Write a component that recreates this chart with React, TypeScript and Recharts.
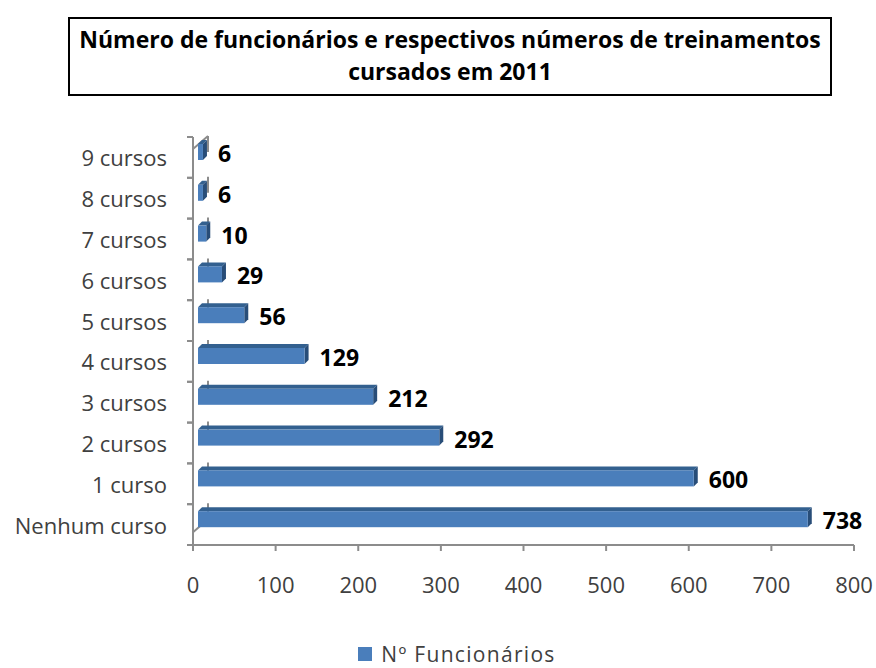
import React from "react";
import { BarChart, Bar, XAxis, YAxis, Legend, LabelList } from "recharts";

const categories = ["Nenhum curso", "1 curso", "2 cursos", "3 cursos", "4 cursos", "5 cursos", "6 cursos", "7 cursos", "8 cursos", "9 cursos"];
const funcionarios = [738, 600, 292, 212, 129, 56, 29, 10, 6, 6];
const xTicks = [0, 100, 200, 300, 400, 500, 600, 700, 800];
const seriesName = "Nº Funcionários";
const titleLines = ["Número de funcionários e respectivos números de treinamentos", "cursados em 2011"];

const data = categories.map((c, i) => ({ cat: c, value: funcionarios[i] }));

const FONT = "'Open Sans', 'DejaVu Sans', sans-serif";
const FACE = "#4A7EBB";
const TOP = "#33608F";
const SIDE = "#284D78";
const AXIS = "#8C8C8C";
const DX = 5;
const DY = -5;
const D = 4;
const WALL_X = 15;
const WALL_Y = -13;

const Bar3D = (props: any) => {
  const { x, y, width, height, background, index } = props;
  const fx = x + DX;
  const fy = y + DY;
  const w = Math.max(width, 0);
  const h = height;
  const bg = background || { x: x, y: y, width: 0, height: h };
  const wallX = bg.x + WALL_X;
  const els: any[] = [];
  els.push(<line key="w" x1={wallX} x2={wallX} y1={bg.y + WALL_Y} y2={bg.y + bg.height + WALL_Y} stroke={AXIS} strokeWidth={2} />);
  if (index === 0) {
    els.push(<line key="wb" x1={bg.x} y1={bg.y + bg.height} x2={wallX} y2={bg.y + bg.height + WALL_Y} stroke={AXIS} strokeWidth={2} />);
  }
  if (index === categories.length - 1) {
    els.push(<line key="wt" x1={bg.x} y1={bg.y} x2={wallX} y2={bg.y + WALL_Y} stroke={AXIS} strokeWidth={2} />);
  }
  els.push(<polygon key="t" points={`${fx},${fy} ${fx + D},${fy - D} ${fx + w + D},${fy - D} ${fx + w},${fy}`} fill={TOP} />);
  els.push(<polygon key="s" points={`${fx + w},${fy} ${fx + w + D},${fy - D} ${fx + w + D},${fy + h - D} ${fx + w},${fy + h}`} fill={SIDE} />);
  els.push(<rect key="f" x={fx} y={fy} width={w} height={h} fill={FACE} />);
  return <g>{els}</g>;
};

const YTick = (props: any) => {
  const { x, y, payload } = props;
  const off = payload && payload.offset != null ? payload.offset : 20.4;
  const axisX = x + 26;
  return (
    <g>
      <line x1={axisX - 6} x2={axisX} y1={y - off} y2={y - off} stroke={AXIS} strokeWidth={2} />
      <line x1={axisX - 6} x2={axisX} y1={y + off} y2={y + off} stroke={AXIS} strokeWidth={2} />
      <text x={x} y={y} textAnchor="end" dominantBaseline="central" fontFamily={FONT} fontSize={22} fill="#404040">
        {payload.value}
      </text>
    </g>
  );
};

const ValueLabel = (props: any) => {
  const { x, y, width, height, value } = props;
  return (
    <text x={x + width + 20} y={y + height / 2 - 4} dominantBaseline="central" fontFamily={FONT} fontWeight="bold" fontSize={23} fill="#000">
      {value}
    </text>
  );
};

const LegendContent = () => (
  <div style={{ display: "flex", alignItems: "center", justifyContent: "center", paddingLeft: 52, height: 24, fontFamily: FONT, fontSize: 21, lineHeight: "24px", color: "#404040" }}>
    <span style={{ display: "inline-block", width: 14, height: 14, background: FACE, marginRight: 9 }} />
    <span style={{ letterSpacing: 1.3 }}>{seriesName}</span>
  </div>
);

export default function App() {
  return (
    <div style={{ position: "relative", width: 868, height: 660 }}>
      <style>{"html,body{overflow:hidden;} body{margin:8px 0 0 8px;}"}</style>
      <div
        style={{
          position: "absolute",
          left: 60,
          top: 9,
          width: 760,
          height: 71,
          border: "2px solid #000",
          fontFamily: FONT,
          fontWeight: "bold",
          fontSize: 23,
          lineHeight: "32px",
          textAlign: "center",
          color: "#000",
          paddingTop: 4,
          whiteSpace: "nowrap",
          zIndex: 2,
          background: "#fff",
        }}
      >
        <div>{titleLines[0]}</div>
        <div>{titleLines[1]}</div>
      </div>
      <BarChart
        width={868}
        height={660}
        data={data}
        layout="vertical"
        margin={{ top: 129, right: 22, left: 0, bottom: 2 }}
        barCategoryGap={0}
      >
        <XAxis
          type="number"
          domain={[0, 800]}
          ticks={xTicks}
          interval={0}
          height={97}
          tickSize={6}
          tickMargin={26}
          axisLine={{ stroke: AXIS, strokeWidth: 2 }}
          tickLine={{ stroke: AXIS, strokeWidth: 2 }}
          tick={{ fontFamily: FONT, fontSize: 22, fill: "#404040" }}
        />
        <YAxis
          type="category"
          dataKey="cat"
          reversed
          width={185}
          tickSize={6}
          tickMargin={20}
          interval={0}
          axisLine={{ stroke: AXIS, strokeWidth: 2 }}
          tickLine={false}
          tick={<YTick />}
        />
        <Legend verticalAlign="bottom" content={<LegendContent />} />
        <Bar dataKey="value" name={seriesName} barSize={16} shape={<Bar3D />} isAnimationActive={false}>
          <LabelList dataKey="value" content={<ValueLabel />} />
        </Bar>
      </BarChart>
    </div>
  );
}
